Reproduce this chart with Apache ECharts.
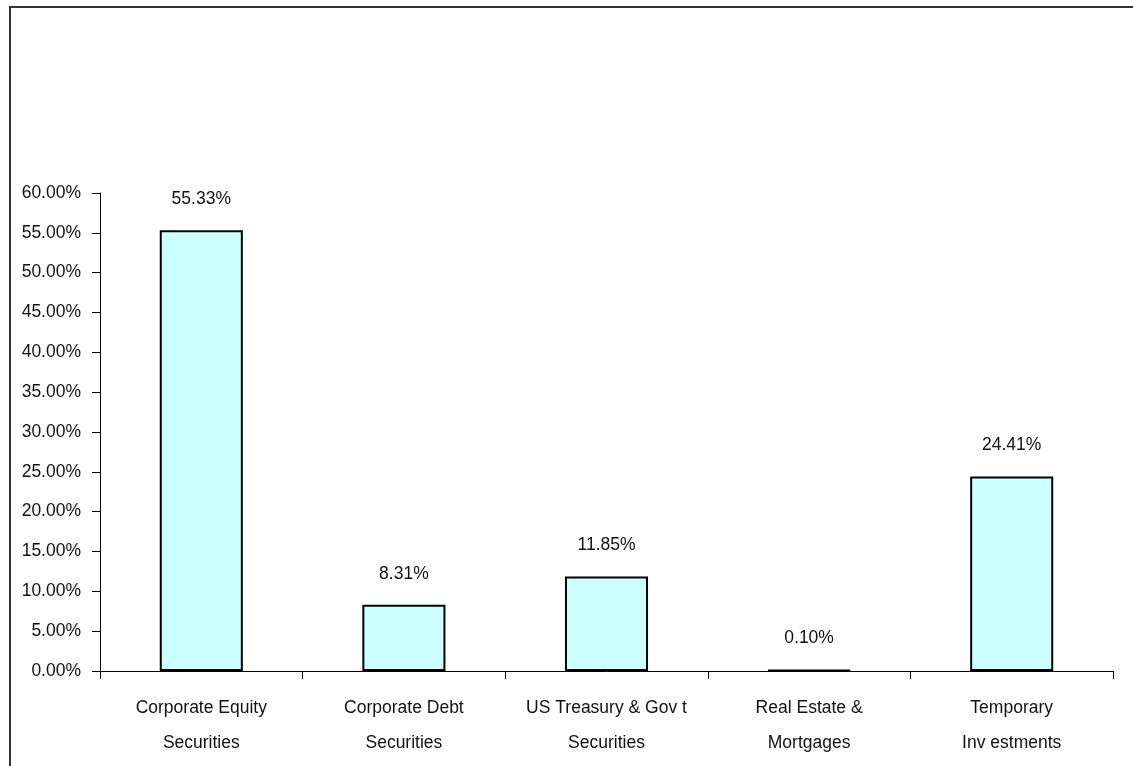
<!DOCTYPE html>
<html>
<head>
<meta charset="utf-8">
<title>Asset allocation</title>
<script src="https://cdn.jsdelivr.net/npm/echarts@6/dist/echarts.min.js"></script>
<style>
  html, body { margin: 0; padding: 0; background: #fff; }
  #chart { width: 1133px; height: 766px; }
</style>
</head>
<body>
<div id="chart"></div>
<script>
// Asset classes and their share of the portfolio (percent)
const categories = [
  'Corporate Equity\nSecurities',
  'Corporate Debt\nSecurities',
  'US Treasury & Gov t\nSecurities',
  'Real Estate &\nMortgages',
  'Temporary\nInv estments'
];
const shares = [55.33, 8.31, 11.85, 0.10, 24.41];

// y-axis range and step (percent)
const yMin = 0;
const yMax = 60;
const yStep = 5;

const FONT = "'Liberation Sans', Arial, sans-serif";
const FS = 17.5;

const chart = echarts.init(document.getElementById('chart'));
chart.setOption({
  animation: false,
  backgroundColor: '#ffffff',
  graphic: [{
    type: 'rect',
    shape: { x: 10, y: 7, width: 1200, height: 800 },
    style: { fill: 'none', stroke: '#333333', lineWidth: 2 },
    silent: true
  }],
  grid: { left: 100, right: 20, top: 193, bottom: 95 },
  xAxis: {
    type: 'category',
    data: categories,
    axisLine: { lineStyle: { color: '#000', width: 1 } },
    axisTick: { show: true, length: 8, inside: false, alignWithLabel: false, lineStyle: { color: '#000' } },
    axisLabel: {
      color: '#111', fontFamily: FONT, fontSize: FS, lineHeight: 35,
      margin: 20, interval: 0
    },
    splitLine: { show: false }
  },
  yAxis: {
    type: 'value',
    min: yMin, max: yMax, interval: yStep,
    axisLine: { show: true, lineStyle: { color: '#000', width: 1 } },
    axisTick: { show: true, length: 8, lineStyle: { color: '#000' } },
    axisLabel: {
      color: '#111', fontFamily: FONT, fontSize: FS, margin: 19,
      formatter: v => v.toFixed(2) + '%'
    },
    splitLine: { show: false }
  },
  series: [{
    type: 'bar',
    data: shares,
    barWidth: '41%',
    itemStyle: { color: '#CCFFFF', borderColor: '#000', borderWidth: 2 },
    label: {
      show: true, position: 'top', distance: 22,
      color: '#111', fontFamily: FONT, fontSize: FS,
      formatter: p => p.value.toFixed(2) + '%'
    }
  }]
});
</script>
</body>
</html>
